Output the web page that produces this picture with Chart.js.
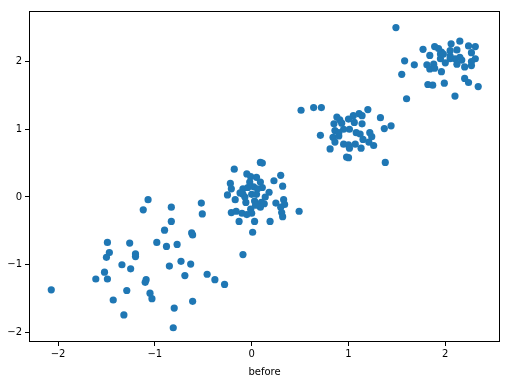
<!DOCTYPE html>
<html>
<head>
<meta charset="utf-8">
<script src="https://cdn.jsdelivr.net/npm/chart.js@4/dist/chart.umd.min.js"></script>
<style>
  html, body { margin: 0; padding: 0; background: #fff; }
  #wrap { width: 509px; height: 385px; }
</style>
</head>
<body>
<div id="wrap"><canvas id="scatter"></canvas></div>
<script>
// values, one cluster after another
const xValues = [
  // around (-1, -1)
  -2.07, -1.61, -1.49, -1.52, -1.49, -1.47, -1.50, -1.34, -1.26, -1.20, -1.20, -1.25, -1.29, -1.43,
  -1.32, -1.12, -1.07, -0.98, -1.09, -1.10, -1.05, -1.03, -0.90, -0.83, -0.83, -0.88, -0.77, -0.85,
  -0.73, -0.63, -0.69, -0.80, -0.81, -0.62, -0.61, -0.52, -0.51, -0.61, -0.46, -0.38, -0.28, -0.09,
  // around (0, 0)
  0.09, 0.11, -0.18, -0.05, -0.01, 0.05, 0.30, 0.23, 0.32, -0.22, -0.21, -0.09, -0.04, 0.02, 0.09,
  0.11, 0.18, -0.25, -0.09, 0.00, 0.05, -0.17, -0.06, 0.03, 0.10, 0.13, 0.25, 0.33, 0.34, -0.21,
  -0.16, -0.10, -0.01, 0.00, -0.05, 0.09, 0.30, 0.31, 0.32, 0.49, -0.13, 0.03, 0.19, 0.01,
  -0.02, 0.06, -0.07, 0.14, 0.04, -0.12,
  // around (1, 1)
  0.51, 0.64, 0.72, 1.20, 1.11, 1.05, 1.14, 0.88, 0.91, 0.85, 0.93, 1.33, 1.06, 1.14, 1.37, 1.44,
  0.71, 0.86, 0.84, 0.90, 1.01, 1.08, 1.12, 1.22, 1.24, 0.86, 0.95, 1.00, 1.07, 1.13, 1.21, 1.26,
  0.81, 1.01, 0.98, 1.00, 1.38, 0.95, 1.00, 0.90, 1.15,
  // around (2, 2)
  1.49, 1.77, 1.89, 2.06, 2.15, 2.24, 2.31, 1.96, 1.84, 1.95, 2.05, 2.12, 2.27, 1.58, 1.68, 1.81,
  1.88, 1.84, 1.89, 2.05, 2.10, 2.15, 2.31, 2.12, 2.20, 2.27, 1.96, 1.55, 2.20, 2.24, 1.82, 1.87,
  1.99, 2.34, 1.60, 2.10, 1.95, 1.98, 2.00, 2.17, 2.27, 1.93, 2.05
];
const yValues = [
  -1.37, -1.21, -1.21, -1.11, -0.67, -0.82, -0.89, -1.00, -0.68, -0.84, -0.88, -1.06, -1.38, -1.52,
  -1.74, -0.19, -0.04, -0.67, -1.22, -1.26, -1.42, -1.50, -0.49, -0.15, -0.36, -0.73, -0.70, -1.02,
  -0.95, -0.99, -1.16, -1.64, -1.93, -0.53, -0.56, -0.09, -0.25, -1.54, -1.14, -1.22, -1.29, -0.85,
  0.51, 0.50, 0.41, 0.34, 0.30, 0.29, 0.32, 0.24, 0.16, 0.20, 0.12, 0.12, 0.14, 0.15, 0.22,
  0.14, 0.07, 0.03, 0.04, 0.04, 0.04, -0.04, -0.08, -0.06, -0.08, -0.10, -0.09, -0.04, -0.11, -0.23,
  -0.21, -0.24, -0.18, -0.24, -0.26, -0.15, -0.15, -0.23, -0.29, -0.21, -0.36, -0.36, -0.36, -0.52,
  0.22, 0.12, 0.00, 0.00, -0.12, 0.06,
  1.28, 1.32, 1.32, 1.29, 1.23, 1.20, 1.20, 1.18, 1.14, 1.08, 1.09, 1.17, 1.10, 1.08, 1.01, 1.05,
  0.91, 0.98, 0.88, 0.90, 1.00, 0.95, 0.93, 0.95, 0.89, 0.81, 0.78, 0.77, 0.78, 0.72, 0.81, 0.76,
  0.71, 0.72, 0.59, 0.58, 0.51, 1.00, 1.15, 0.95, 0.85,
  2.50, 2.18, 2.22, 2.26, 2.30, 2.23, 2.22, 2.14, 2.09, 2.04, 2.16, 2.17, 2.13, 2.01, 1.95, 1.95,
  1.96, 1.89, 1.90, 2.04, 2.04, 2.06, 2.04, 1.96, 1.92, 1.94, 1.85, 1.81, 1.75, 1.69, 1.66, 1.65,
  1.68, 1.63, 1.45, 1.49, 2.11, 2.11, 1.98, 2.02, 2.00, 2.19, 2.08
];
const xTicks = [-2, -1, 0, 1, 2];
const yTicks = [-2, -1, 0, 1, 2];
const xLabel = 'before';

const points = xValues.map((x, i) => ({ x: x, y: yValues[i] }));

const minus = v => String(v).replace('-', '\u2212');

// matplotlib draws all four spines, chart.js only the axis borders
const frame = {
  id: 'frame',
  afterDraw(chart) {
    const a = chart.chartArea, ctx = chart.ctx;
    ctx.save();
    ctx.strokeStyle = '#000';
    ctx.lineWidth = 1;
    ctx.strokeRect(Math.round(a.left) + 0.5, Math.round(a.top) + 0.5,
      Math.round(a.right - a.left) - 1, Math.round(a.bottom - a.top) - 1);
    ctx.restore();
  }
};

Chart.defaults.font.family = '"DejaVu Sans", sans-serif';
Chart.defaults.font.size = 10;
Chart.defaults.color = '#000';

new Chart(document.getElementById('scatter'), {
  type: 'scatter',
  data: {
    datasets: [{
      data: points,
      backgroundColor: '#1f77b4',
      borderWidth: 0,
      pointRadius: 3.6,
      pointHoverRadius: 3.6
    }]
  },
  options: {
    responsive: true,
    maintainAspectRatio: false,
    animation: false,
    layout: { padding: { top: 11, right: 9, left: 0, bottom: 0 } },
    plugins: { legend: { display: false }, tooltip: { enabled: false } },
    scales: {
      x: {
        type: 'linear',
        min: -2.30,
        max: 2.565,
        afterBuildTicks: s => { s.ticks = xTicks.map(v => ({ value: v })); },
        afterFit: s => { s.height = 43; },
        grid: { drawOnChartArea: false, drawTicks: true, tickLength: 4, tickColor: '#000' },
        border: { display: false },
        ticks: { padding: 2, maxRotation: 0, callback: v => minus(v) },
        title: { display: true, text: xLabel, padding: { top: 2, bottom: 7 }, font: { size: 10 } }
      },
      y: {
        type: 'linear',
        min: -2.14,
        max: 2.745,
        afterBuildTicks: s => { s.ticks = yTicks.map(v => ({ value: v })); },
        afterFit: s => { s.width = 29; },
        grid: { drawOnChartArea: false, drawTicks: true, tickLength: 4, tickColor: '#000' },
        border: { display: false },
        ticks: { padding: 3, callback: v => minus(v) }
      }
    }
  },
  plugins: [frame]
});
</script>
</body>
</html>
